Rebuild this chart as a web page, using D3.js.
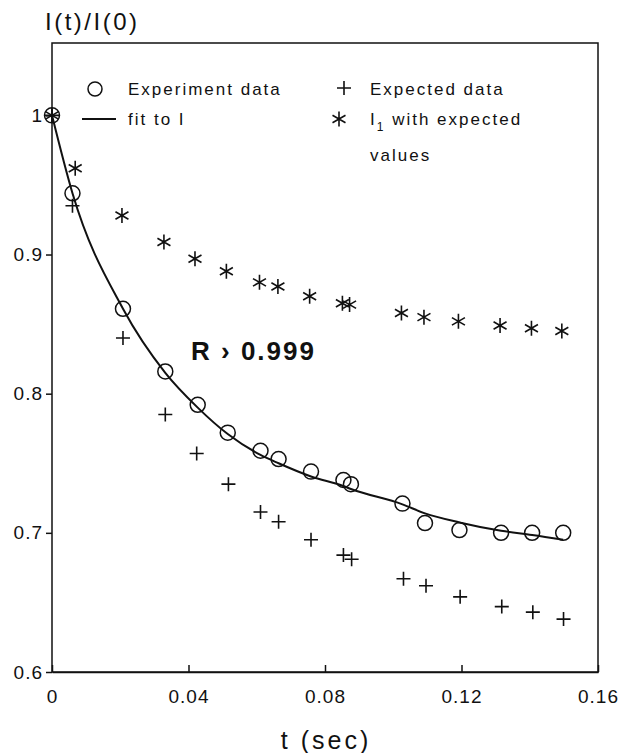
<!DOCTYPE html>
<html lang="en">
<head>
  <meta charset="UTF-8">
  <title>I(t)/I(0) vs t</title>
  <script src="https://d3js.org/d3.v7.min.js"></script>
  <style>
    body { margin: 0; background: #fff; }
    svg { display: block; font-family: "Liberation Sans", Arial, sans-serif; }
    .tick text { font-size: 19px; fill: #111; letter-spacing: 1px; }
  </style>
</head>
<body>
  <script>
    // experiment data (circles)
    const expT = [0, 0.006, 0.0208, 0.0332, 0.0427, 0.0515, 0.0611, 0.0664, 0.0759, 0.0854, 0.0876, 0.1027, 0.1093, 0.1194, 0.1316, 0.1407, 0.1498];
    const expV = [1.0, 0.944, 0.861, 0.816, 0.792, 0.772, 0.759, 0.753, 0.744, 0.738, 0.735, 0.721, 0.707, 0.702, 0.700, 0.700, 0.700];

    // expected data (plus)
    const plusT = [0, 0.006, 0.0208, 0.0332, 0.0424, 0.0517, 0.0611, 0.0664, 0.0759, 0.0854, 0.0878, 0.1030, 0.1096, 0.1196, 0.1318, 0.1409, 0.1499];
    const plusV = [1.0, 0.935, 0.840, 0.785, 0.757, 0.735, 0.715, 0.708, 0.695, 0.684, 0.681, 0.667, 0.662, 0.654, 0.647, 0.643, 0.638];

    // I1 with expected values (asterisks)
    const starT = [0, 0.0068, 0.0205, 0.0328, 0.0419, 0.0511, 0.0608, 0.0662, 0.0755, 0.0851, 0.0872, 0.1024, 0.1090, 0.1191, 0.1313, 0.1405, 0.1494];
    const starV = [1.0, 0.962, 0.928, 0.909, 0.897, 0.888, 0.880, 0.877, 0.870, 0.865, 0.864, 0.858, 0.855, 0.852, 0.849, 0.847, 0.845];

    // fit curve
    const fitT = [0, 0.006, 0.0208, 0.0332, 0.0427, 0.0515, 0.0611, 0.0664, 0.0759, 0.0855, 0.0876, 0.1027, 0.1093, 0.1194, 0.1316, 0.1407, 0.1498];
    const fitV = [1.0, 0.944, 0.861, 0.815, 0.790, 0.771, 0.756, 0.750, 0.7405, 0.7335, 0.7315, 0.7205, 0.714, 0.7075, 0.7015, 0.6985, 0.695];

    const xTicks = [0, 0.04, 0.08, 0.12, 0.16];
    const xTickLabels = ["0", "0.04", "0.08", "0.12", "0.16"];
    const yTicks = [0.6, 0.7, 0.8, 0.9, 1.0];
    const yTickLabels = ["0.6", "0.7", "0.8", "0.9", "1"];

    const width = 620, height = 753;
    const mLeft = 52, mRight = 598, mTop = 43, mBottom = 672;

    const svg = d3.select("body").append("svg")
      .attr("width", width)
      .attr("height", height);

    const x = d3.scaleLinear().domain([0, 0.16]).range([mLeft, mRight]);
    const y = d3.scaleLinear().domain([0.6, 1.052]).range([mBottom, mTop]);

    // frame
    svg.append("rect")
      .attr("x", mLeft).attr("y", mTop)
      .attr("width", mRight - mLeft).attr("height", mBottom - mTop)
      .attr("fill", "none").attr("stroke", "#111").attr("stroke-width", 1.5);

    // x axis: ticks pointing inward
    const xAxis = svg.append("g")
      .attr("transform", `translate(0,${mBottom})`)
      .call(d3.axisBottom(x).tickValues(xTicks)
        .tickFormat((d, i) => xTickLabels[i])
        .tickSizeInner(-7).tickSizeOuter(0).tickPadding(17));
    xAxis.select(".domain").attr("stroke-width", 1.5).attr("stroke", "#111");
    xAxis.selectAll(".tick line").attr("stroke-width", 1.5).attr("stroke", "#111");
    xAxis.selectAll(".tick text").attr("dy", "0.75em");

    // y axis: ticks outward
    const yAxis = svg.append("g")
      .attr("transform", `translate(${mLeft},0)`)
      .call(d3.axisLeft(y).tickValues(yTicks)
        .tickFormat((d, i) => yTickLabels[i])
        .tickSizeInner(6).tickSizeOuter(0).tickPadding(3));
    yAxis.select(".domain").remove();
    yAxis.selectAll(".tick line").attr("stroke-width", 1.5).attr("stroke", "#111");

    // axis titles
    svg.append("text")
      .attr("x", 45).attr("y", 30)
      .attr("font-size", 24).attr("letter-spacing", 2.5).attr("fill", "#111")
      .text("I(t)/I(0)");
    svg.append("text")
      .attr("x", 326).attr("y", 749)
      .attr("text-anchor", "middle")
      .attr("font-size", 25).attr("letter-spacing", 3).attr("fill", "#111")
      .text("t (sec)");

    // fit line
    const fitData = fitT.map((t, i) => [t, fitV[i]]);
    svg.append("path")
      .datum(fitData)
      .attr("fill", "none").attr("stroke", "#111").attr("stroke-width", 2)
      .attr("d", d3.line().x(d => x(d[0])).y(d => y(d[1])).curve(d3.curveMonotoneX));

    // marker shapes
    function plusPath(s) {
      return `M${-s},0H${s}M0,${-s}V${s}`;
    }
    function starPath(s) {
      const c = s * Math.cos(Math.PI / 6), h = s * 0.5;
      return `M0,${-s}V${s}M${-c},${-h}L${c},${h}M${-c},${h}L${c},${-h}`;
    }

    svg.append("g").selectAll("circle")
      .data(expT.map((t, i) => [t, expV[i]]))
      .join("circle")
      .attr("cx", d => x(d[0])).attr("cy", d => y(d[1]))
      .attr("r", 7.5)
      .attr("fill", "none").attr("stroke", "#111").attr("stroke-width", 1.5);

    svg.append("g").selectAll("path")
      .data(plusT.map((t, i) => [t, plusV[i]]))
      .join("path")
      .attr("transform", d => `translate(${x(d[0])},${y(d[1])})`)
      .attr("d", plusPath(7))
      .attr("stroke", "#111").attr("stroke-width", 1.6);

    svg.append("g").selectAll("path")
      .data(starT.map((t, i) => [t, starV[i]]))
      .join("path")
      .attr("transform", d => `translate(${x(d[0])},${y(d[1])})`)
      .attr("d", starPath(7.5))
      .attr("stroke", "#111").attr("stroke-width", 1.6);

    // R annotation
    svg.append("text")
      .attr("x", 191).attr("y", 360)
      .attr("font-size", 26).attr("font-weight", "bold").attr("letter-spacing", 2)
      .attr("fill", "#111")
      .text("R › 0.999");

    // legend
    const lg = svg.append("g").attr("font-size", 17).attr("letter-spacing", 2).attr("fill", "#111");
    lg.append("circle").attr("cx", 95).attr("cy", 89).attr("r", 7)
      .attr("fill", "none").attr("stroke", "#111").attr("stroke-width", 1.5);
    lg.append("text").attr("x", 128).attr("y", 95).text("Experiment data");
    lg.append("line").attr("x1", 82).attr("x2", 116).attr("y1", 119).attr("y2", 119)
      .attr("stroke", "#111").attr("stroke-width", 2.2);
    lg.append("text").attr("x", 128).attr("y", 125).text("fit to I");
    lg.append("path").attr("transform", "translate(344,88)").attr("d", plusPath(7))
      .attr("stroke", "#111").attr("stroke-width", 1.6);
    lg.append("text").attr("x", 370).attr("y", 95).text("Expected data");
    lg.append("path").attr("transform", "translate(339,119)").attr("d", starPath(7.5))
      .attr("stroke", "#111").attr("stroke-width", 1.6);
    const t1 = lg.append("text").attr("x", 370).attr("y", 125);
    t1.append("tspan").text("I");
    t1.append("tspan").attr("font-size", 12).attr("dy", 6).text("1");
    t1.append("tspan").attr("dy", -6).text(" with expected");
    lg.append("text").attr("x", 370).attr("y", 161).text("values");
  </script>
</body>
</html>
